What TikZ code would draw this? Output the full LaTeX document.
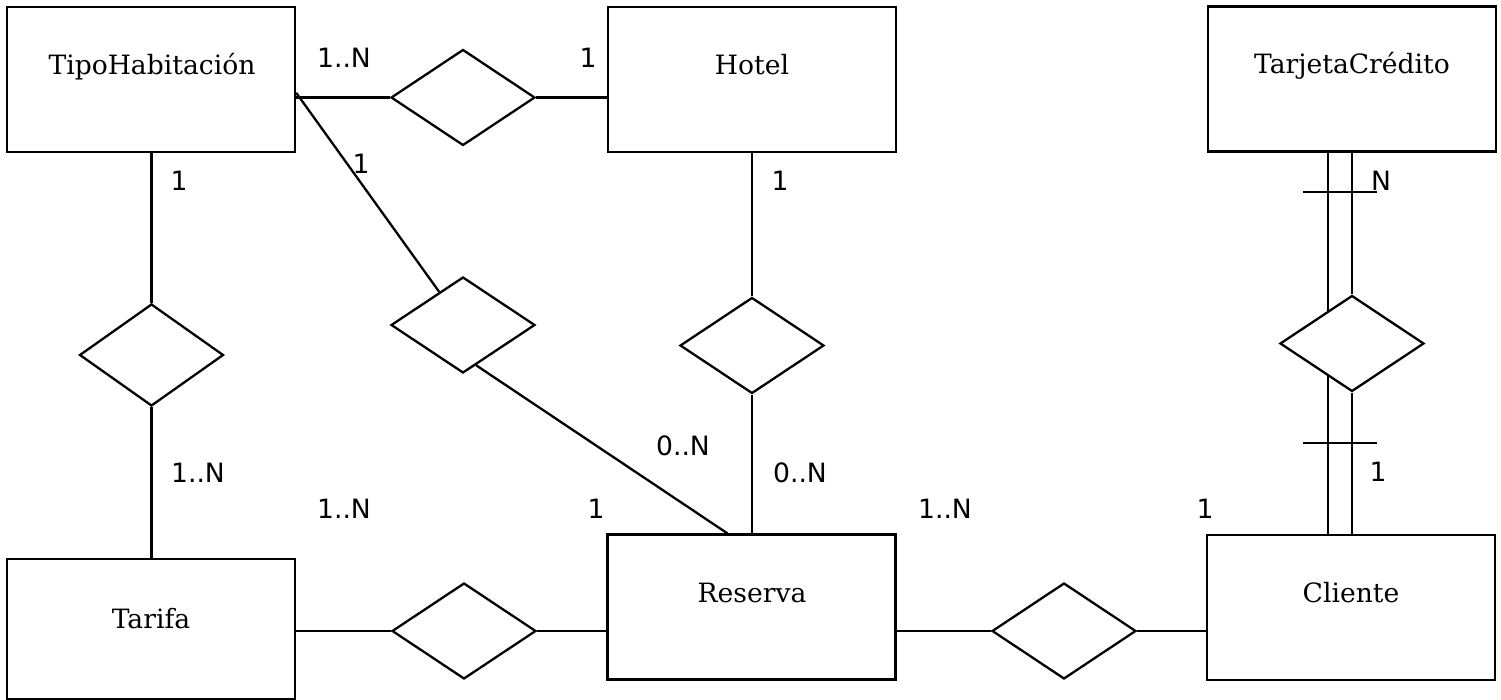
\documentclass[tikz,border=0pt]{standalone}
\usepackage{fontspec}
\setmainfont{DejaVu Serif}
\newfontfamily\lblfont{DejaVu Sans}
\usetikzlibrary{shapes.geometric,calc}
\begin{document}
\begin{tikzpicture}[x=0.5pt,y=-0.5pt,line width=1.15pt,
  entity/.style={draw,rectangle,minimum width=144pt,minimum height=72.5pt,inner sep=0pt},
  rel/.style={draw,diamond,minimum width=72pt,minimum height=48pt,inner sep=0pt},
  etext/.style={anchor=base,font=\fontsize{13.3}{16}\selectfont,inner sep=0pt},
  card/.style={font=\lblfont\fontsize{13.3}{15}\selectfont,inner sep=0pt}]
\fill[white] (0,0) rectangle (1501,700);
\useasboundingbox (0,0) rectangle (1501,700);

% entities
\node[entity] (tipo) at (151,79.5) {};
\node[entity] (hotel) at (752,79.5) {};
\node[entity] (tarjeta) at (1352,79) {};
\node[entity,minimum height=70pt] (tarifa) at (151,629) {};
\node[entity] (reserva) at (751.5,607) {};
\node[entity] (cliente) at (1351,607.5) {};

\node[etext] (tipoT) at (152,75) {TipoHabitación};
\node[etext] (hotelT) at (752,75) {Hotel};
\node[etext] (tarjetaT) at (1352,74) {TarjetaCrédito};
\node[etext] (tarifaT) at (151,628) {Tarifa};
\node[etext] (reservaT) at (752,603) {Reserva};
\node[etext] (clienteT) at (1351,603) {Cliente};

% relationships
\node[rel] (d1) at (463,97.5) {};
\node[rel,minimum height=51pt] (d2) at (151.5,355) {};
\node[rel] (d3) at (463,325) {};
\node[rel] (d4) at (752,345.5) {};
\node[rel] (d5) at (1064,631) {};
\node[rel] (d6) at (464,631) {};
\node[rel] (d7) at (1352,343.5) {};

% connectors
\draw (d1.west) -- (d1.west -| tipo.east);
\draw (d1.east) -- (d1.east -| hotel.west);
\draw (d2.north) -- (d2.north |- tipo.south);
\draw (d2.south) -- (d2.south |- tarifa.north);
\coordinate (tipoC) at ($(tipo.north east)!0.59!(tipo.south east)$);
\draw (tipoC) -- (d3);
\coordinate (resD3) at ($(reserva.north west)+(121,0)$);
\draw ($(d3.south)!0.18!(d3.east)$) -- (resD3);
\draw (d4.north) -- (d4.north |- hotel.south);
\draw (d4.south) -- (d4.south |- reserva.north);
\draw (d6.west) -- (d6.west -| tarifa.east);
\draw (d6.east) -- (d6.east -| reserva.west);
\draw (d5.west) -- (d5.west -| reserva.east);
\draw (d5.east) -- (d5.east -| cliente.west);

% double line TarjetaCredito - Cliente
\draw (d7.north) -- (d7.north |- tarjeta.south);
\draw (d7.south) -- (d7.south |- cliente.north);
\coordinate (d7a) at ($(d7.north)!0.333!(d7.west)$);
\coordinate (d7b) at ($(d7.south)!0.333!(d7.west)$);
\draw (d7a) -- (d7a |- tarjeta.south);
\draw (d7b) -- (d7b |- cliente.north);
\coordinate (t1a) at (1303,192);
\coordinate (t1b) at (1377,192);
\coordinate (t2a) at (1303,443);
\coordinate (t2b) at (1377,443);
\draw (t1a) -- (t1b);
\draw (t2a) -- (t2b);

% cardinalities
\node[card] (c1) at (344,58) {1..N};
\node[card] (c2) at (588,58) {1};
\node[card] (c3) at (361,164) {1};
\node[card] (c4) at (179,181) {1};
\node[card] (c5) at (780,181) {1};
\node[card] (c6) at (1381,181) {N};
\node[card] (c7) at (198,473) {1..N};
\node[card] (c8) at (344,509) {1..N};
\node[card] (c9) at (596,509) {1};
\node[card] (c10) at (683,446) {0..N};
\node[card] (c11) at (800,473) {0..N};
\node[card] (c12) at (945,509) {1..N};
\node[card] (c13) at (1205,509) {1};
\node[card] (c14) at (1378,472) {1};
\end{tikzpicture}
\end{document}
